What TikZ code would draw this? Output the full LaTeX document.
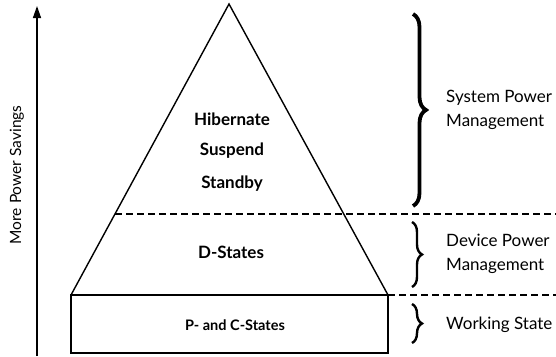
\documentclass[tikz,border=0pt]{standalone}
\usepackage{fontspec}
\setmainfont{Lato}
\usetikzlibrary{arrows.meta,decorations.pathreplacing}
\tikzset{
  outline/.style={line width=1.4pt, line join=miter},
  divider/.style={line width=1.2pt, dash pattern=on 7pt off 4pt},
  statelabel/.style={font=\bfseries\fontsize{17}{20}\selectfont, inner sep=0pt},
  sidelabel/.style={font=\fontsize{17}{23.5}\selectfont, align=left, anchor=west, inner sep=0pt},
  bigbrace/.style={decorate, decoration={brace, amplitude=13pt}, line width=3.8pt},
  smallbrace/.style={decorate, decoration={brace, amplitude=10pt}, line width=2.4pt},
}
\begin{document}
\begin{tikzpicture}[x=1pt, y=-1pt]
\useasboundingbox (0,0) rectangle (556,356);
% pyramid outline and base block
\coordinate (apex) at (229,4);
\coordinate (bl) at (71,295);
\coordinate (br) at (388,295);
\coordinate (rbl) at (71,353);
\coordinate (rbr) at (388,353);
\draw[outline] (bl) -- (apex) -- (br);
\draw[outline] (bl) rectangle (rbr);
% level dividers
\coordinate (d1a) at (115,214);
\coordinate (d1b) at (556,214);
\coordinate (d2b) at (556,295);
\draw[divider] (d1a) -- (d1b);
\draw[divider] (br) -- (d2b);
% state labels
\node[statelabel] (hib) at (232,119) {Hibernate};
\node[statelabel] (sus) at (232,151) {Suspend};
\node[statelabel] (stb) at (232,184) {Standby};
\node[statelabel] (dst) at (231,252) {D-States};
\node[statelabel, font=\bfseries\fontsize{14.5}{17}\selectfont] (pcs) at (235,325) {P- and C-States};
% power-savings axis
\coordinate (axb) at (37,356);
\coordinate (axt) at (37,6);
\draw[line width=1.4pt, -{Triangle[length=12pt,width=8pt]}] (axb) -- (axt);
\node[rotate=90, font=\fontsize{15.5}{18}\selectfont, inner sep=0pt] (axlbl) at (17,175) {More Power Savings};
% braces with their labels
\coordinate (b1t) at (413,14);
\coordinate (b1b) at (413,206);
\coordinate (b2t) at (412,222);
\coordinate (b2b) at (412,287);
\coordinate (b3t) at (412,304);
\coordinate (b3b) at (412,343);
\draw[bigbrace] (b1t) -- (b1b);
\draw[smallbrace] (b2t) -- (b2b);
\draw[smallbrace] (b3t) -- (b3b);
\node[sidelabel] (spm) at (446,110) {System Power\\Management};
\node[sidelabel] (dpm) at (446,254) {Device Power\\Management};
\node[sidelabel] (ws) at (446,325) {Working State};
\end{tikzpicture}
\end{document}
